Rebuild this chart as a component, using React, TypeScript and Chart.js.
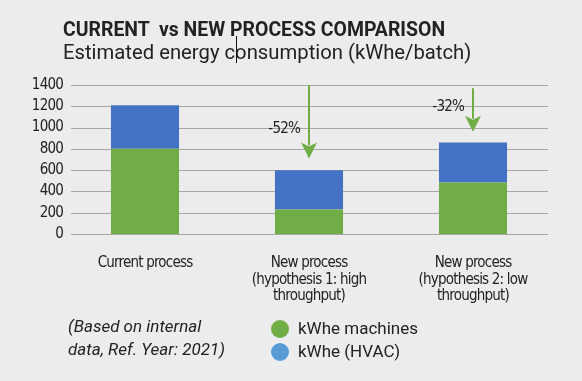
import React, { useEffect, useRef } from 'react';
import { Chart, registerables } from 'chart.js';

Chart.register(...registerables);

const categories: string[][] = [
  ['Current process'],
  ['New process', '(hypothesis 1: high', 'throughput)'],
  ['New process', '(hypothesis 2: low', 'throughput)'],
];
const machines = [800, 230, 485];
const hvac = [410, 370, 375];
const seriesNames = ['kWhe machines', 'kWhe (HVAC)'];
const yMin = 0;
const yMax = 1400;
const yStep = 200;
const changeLabels = ['', '-52%', '-32%'];
const arrowStart: (number | null)[] = [null, 1400, 1370];
const arrowEnd: (number | null)[] = [null, 710, 960];
const labelLevel: (number | null)[] = [null, 985, 1190];

const GREEN = '#70ad47';
const BLUE = '#4472c4';
const LEGEND_BLUE = '#5b9bd5';
const TEXT = '#222222';
const BG = '#ececec';
const NARROW = "'Liberation Sans Narrow', 'DejaVu Sans Condensed', sans-serif";

const spacingPlugin = {
  id: 'spacing',
  beforeDraw(chart: any) {
    chart.ctx.letterSpacing = '-0.8px';
  },
};

const gridPlugin = {
  id: 'customGrid',
  beforeDatasetsDraw(chart: any) {
    const { ctx, chartArea, scales } = chart;
    const y = scales.y;
    ctx.save();
    ctx.strokeStyle = '#a6a6a6';
    ctx.lineWidth = 1;
    y.ticks.forEach((t: any) => {
      const py = Math.round(y.getPixelForValue(t.value)) + 0.5;
      ctx.beginPath();
      ctx.moveTo(chartArea.left + 8, py);
      ctx.lineTo(chartArea.right - 7, py);
      ctx.stroke();
    });
    ctx.restore();
  },
};

const arrowPlugin = {
  id: 'arrows',
  afterDatasetsDraw(chart: any) {
    const { ctx, scales } = chart;
    const x = scales.x;
    const y = scales.y;
    ctx.save();
    categories.forEach((_, i) => {
      const s = arrowStart[i];
      const e = arrowEnd[i];
      if (s == null || e == null) return;
      const px = x.getPixelForValue(i);
      const y1 = y.getPixelForValue(s);
      const y2 = y.getPixelForValue(e);
      const head = 16;
      ctx.strokeStyle = GREEN;
      ctx.fillStyle = GREEN;
      ctx.lineWidth = 2;
      ctx.beginPath();
      ctx.moveTo(px, y1);
      ctx.lineTo(px, y2 - head + 3);
      ctx.stroke();
      ctx.beginPath();
      ctx.moveTo(px - 8, y2 - head);
      ctx.lineTo(px, y2 - head + 4);
      ctx.lineTo(px + 8, y2 - head);
      ctx.lineTo(px, y2);
      ctx.closePath();
      ctx.fill();
      const lv = labelLevel[i];
      if (lv != null) {
        ctx.fillStyle = TEXT;
        ctx.font = `15px ${NARROW}`;
        ctx.textAlign = 'right';
        ctx.textBaseline = 'middle';
        ctx.fillText(changeLabels[i], px - 9, y.getPixelForValue(lv));
      }
    });
    ctx.restore();
  },
};

export default function App() {
  const ref = useRef<HTMLCanvasElement | null>(null);
  useEffect(() => {
    if (!ref.current) return;
    const chart = new Chart(ref.current, {
      type: 'bar',
      data: {
        labels: categories,
        datasets: [
          { label: seriesNames[0], data: machines, backgroundColor: GREEN, borderWidth: 0 },
          { label: seriesNames[1], data: hvac, backgroundColor: BLUE, borderWidth: 0 },
        ],
      },
      options: {
        animation: false,
        responsive: false,
        maintainAspectRatio: false,
        layout: { padding: { left: 0, right: 27, top: 85, bottom: 67 } },
        datasets: { bar: { categoryPercentage: 1, barPercentage: 0.415 } },
        plugins: { legend: { display: false }, tooltip: { enabled: false }, title: { display: false } },
        scales: {
          x: {
            stacked: true,
            grid: { display: false, drawTicks: false },
            border: { display: false },
            ticks: { color: TEXT, font: { family: NARROW, size: 15, lineHeight: 1.1 }, padding: 21, maxRotation: 0, autoSkip: false },
            afterFit(scale: any) { scale.height = 80; },
          },
          y: {
            stacked: true,
            min: yMin,
            max: yMax,
            grid: { display: false, drawTicks: false },
            border: { display: false },
            ticks: {
              stepSize: yStep,
              color: TEXT,
              font: { family: NARROW, size: 15 },
              padding: 0,
              callback: (v: any) => String(v),
            },
            afterFit(scale: any) { scale.width = 63; },
          },
        },
      },
      plugins: [spacingPlugin, gridPlugin, arrowPlugin],
    } as any);
    return () => chart.destroy();
  }, []);

  return (
    <div style={{ position: 'fixed', left: 0, top: 0, width: 582, height: 381, background: BG, overflow: 'hidden', fontFamily: 'Roboto, sans-serif', color: TEXT }}>
      <canvas ref={ref} width={582} height={381} style={{ position: 'absolute', left: 0, top: 0, width: 582, height: 381 }} />
      <div style={{ position: 'absolute', left: 63, top: 17, fontSize: 21, fontWeight: 700, whiteSpace: 'pre', lineHeight: '24px', transform: 'scaleX(0.925)', transformOrigin: 'left top' }}>
        {'CURRENT  vs NEW PROCESS COMPARISON'}
      </div>
      <div style={{ position: 'absolute', left: 63, top: 39, fontSize: 21, fontWeight: 400, whiteSpace: 'pre', lineHeight: '26px', transform: 'scaleX(0.965)', transformOrigin: 'left top' }}>
        Estimated energy consumption (kWhe/batch)
      </div>
      <div style={{ position: 'absolute', left: 236, top: 36, width: 1, height: 27, background: '#111' }} />
      <div style={{ position: 'absolute', left: 68, top: 315, fontSize: 17, fontStyle: 'italic', lineHeight: '23px', whiteSpace: 'pre' }}>
        {'(Based on internal\ndata, Ref. Year: 2021)'}
      </div>
      <div style={{ position: 'absolute', left: 271, top: 317, fontSize: 17, lineHeight: '23px' }}>
        {[GREEN, LEGEND_BLUE].map((c, i) => (
          <div key={i} style={{ display: 'flex', alignItems: 'center', height: 23 }}>
            <span style={{ display: 'inline-block', width: 18, height: 18, borderRadius: 9, background: c, marginRight: 9 }} />
            <span>{seriesNames[i]}</span>
          </div>
        ))}
      </div>
    </div>
  );
}
